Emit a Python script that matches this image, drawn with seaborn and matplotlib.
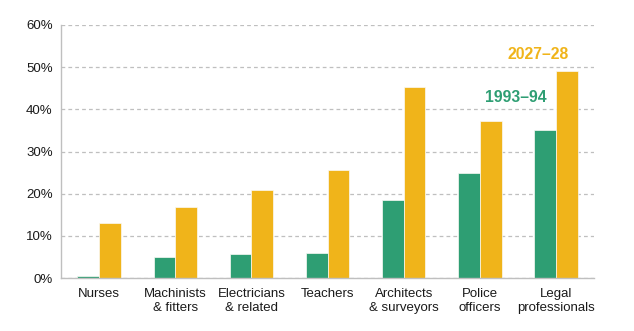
import matplotlib
matplotlib.use("Agg")
import matplotlib.pyplot as plt
import matplotlib.ticker as mticker
import pandas as pd
import seaborn as sns

occupations = ["Nurses", "Machinists\n& fitters", "Electricians\n& related", "Teachers",
               "Architects\n& surveyors", "Police\nofficers", "Legal\nprofessionals"]
years = ["1993–94", "2027–28"]
share_1993 = [0.5, 5.1, 5.7, 5.9, 18.4, 24.8, 35.2]
share_2027 = [13.1, 16.8, 20.9, 25.5, 45.3, 37.2, 49.2]
colours = {"1993–94": "#2E9E73", "2027–28": "#F0B41A"}

df = pd.DataFrame({
    "occupation": occupations * 2,
    "period": [years[0]] * len(occupations) + [years[1]] * len(occupations),
    "share": share_1993 + share_2027,
})

sns.set_style("white")
plt.rcParams["font.family"] = ["Liberation Sans", "DejaVu Sans"]

fig = plt.figure(figsize=(6.34, 3.31), dpi=100)
ax = fig.add_axes([0.0962, 0.160, 0.8408, 0.7645])

sns.barplot(data=df, x="occupation", y="share", hue="period", order=occupations,
            hue_order=years, palette=colours, saturation=1, width=0.57, ax=ax,
            edgecolor="#FAFAF5", linewidth=0.5, legend=False)

ax.set_ylim(0, 60)
ax.set_xlim(-0.5, len(occupations) - 0.5)
ax.set_yticks(range(0, 61, 10))
ax.yaxis.set_major_formatter(mticker.FuncFormatter(lambda v, _: f"{v:.0f}%"))
ax.grid(axis="y", color="#BFBFBF", linestyle=(0, (3, 2.5)), linewidth=0.9)
ax.set_axisbelow(True)

for side in ("top", "right"):
    ax.spines[side].set_visible(False)
for side in ("left", "bottom"):
    ax.spines[side].set_color("#BFBFBF")
    ax.spines[side].set_linewidth(1.0)

ax.set_xlabel("")
ax.set_ylabel("")
ax.tick_params(axis="x", which="major", length=0, labelsize=9.5, colors="#1a1a1a", pad=7)
ax.tick_params(axis="y", which="major", length=0, labelsize=9.5, colors="#1a1a1a", pad=6)
ax.set_xticks([i - 0.5 for i in range(len(occupations) + 1)], minor=True)
ax.tick_params(axis="x", which="minor", length=4, color="#BFBFBF", width=1.0)

ax.text(5.76, 52.9, years[1], color=colours[years[1]], fontsize=11.3, fontweight="bold",
        ha="center", va="center")
ax.text(5.47, 42.7, years[0], color=colours[years[0]], fontsize=11.3, fontweight="bold",
        ha="center", va="center")

fig.savefig("out.png", dpi=100)
